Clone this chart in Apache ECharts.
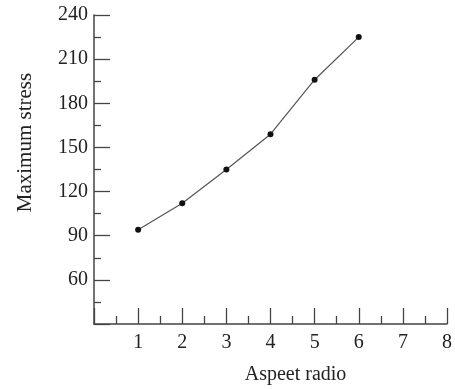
<!DOCTYPE html>
<html>
<head>
<meta charset="utf-8">
<script src="https://cdn.jsdelivr.net/npm/echarts@6/dist/echarts.min.js"></script>
<style>
  html, body { margin: 0; padding: 0; background: #fff; }
  #chart { width: 455px; height: 389px; }
</style>
</head>
<body>
<div id="chart"></div>
<script>
// data
const aspectRatio = [1, 2, 3, 4, 5, 6];
const maxStress = [94, 112, 135, 159, 196, 225];
const xTicks = [0, 8, 1];     // min, max, interval
const yTicks = [30, 240, 30];

const font = 'Liberation Serif, Times New Roman, serif';
const ink = '#222';
const axisColor = '#444';

const chart = echarts.init(document.getElementById('chart'));
chart.setOption({
  animation: false,
  grid: { left: 94, right: 8, top: 15, bottom: 65, outerBoundsMode: 'none' },
  xAxis: {
    type: 'value',
    min: xTicks[0], max: xTicks[1], interval: xTicks[2],
    name: 'Aspeet radio',
    nameLocation: 'middle',
    nameGap: 41,
    nameTextStyle: { fontFamily: font, fontSize: 20, color: ink, padding: [0, 0, 0, 50] },
    axisLine: { lineStyle: { color: axisColor, width: 1.5 } },
    axisTick: { inside: true, length: 16, lineStyle: { color: axisColor, width: 1.3 } },
    minorTick: { show: true, splitNumber: 2, length: 8, lineStyle: { color: axisColor, width: 1.3 } },
    axisLabel: { showMinLabel: false, fontFamily: font, fontSize: 20, color: ink, margin: 9 },
    splitLine: { show: false }
  },
  yAxis: {
    type: 'value',
    min: yTicks[0], max: yTicks[1], interval: yTicks[2],
    name: 'Maximum stress',
    nameLocation: 'middle',
    nameGap: 58,
    nameTextStyle: { fontFamily: font, fontSize: 21, color: ink, padding: [0, 0, 0, 54] },
    axisLine: { show: true, lineStyle: { color: axisColor, width: 1.5 } },
    axisTick: { show: true, inside: true, length: 16, lineStyle: { color: axisColor, width: 1.3 } },
    minorTick: { show: true, splitNumber: 2, length: 7, lineStyle: { color: axisColor, width: 1.3 } },
    axisLabel: { showMinLabel: false, fontFamily: font, fontSize: 20, color: ink, margin: 6 },
    splitLine: { show: false }
  },
  series: [{
    type: 'line',
    data: aspectRatio.map((x, i) => [x, maxStress[i]]),
    symbol: 'circle',
    symbolSize: 6,
    itemStyle: { color: '#111' },
    lineStyle: { color: '#555', width: 1.2 }
  }]
});
</script>
</body>
</html>
